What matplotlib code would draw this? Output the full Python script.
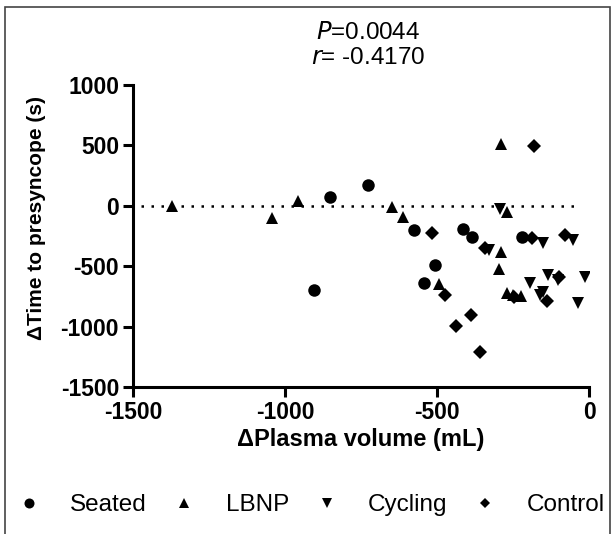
import numpy as np
import matplotlib.pyplot as plt
from matplotlib.patches import Rectangle

plt.rcParams['font.family'] = ['Liberation Sans', 'DejaVu Sans']
plt.rcParams['axes.unicode_minus'] = False

# values (x = dPlasma volume mL, y = dTime s)
seated_x = [-905, -852, -726, -575, -544, -508, -414, -386, -220]
seated_y = [-698, 72, 171, -199, -638, -494, -188, -257, -262]

lbnp_x = [-1373, -1043, -956, -649, -611, -494, -291, -295, -289, -269, -271, -250, -225]
lbnp_y = [0, -105, 38, -8, -92, -645, -385, -527, 513, -55, -720, -737, -745]

cycling_x = [-293, -330, -152, -54, -194, -134, -101, -13, -161, -150, -35]
cycling_y = [-28, -368, -305, -287, -638, -571, -612, -592, -738, -715, -803]

control_x = [-517, -341, -187, -78, -180, -475, -389, -437, -359, -246, -98, -139]
control_y = [-229, -347, -268, -240, 497, -737, -903, -994, -1212, -751, -592, -785]

groups = ['Seated', 'LBNP', 'Cycling', 'Control']
markers = ['o', '^', 'v', 'D']
sizes = [9, 9, 9, 7]

fig = plt.figure(figsize=(6.14, 5.34), dpi=100)
ax = fig.add_axes([133/614, 1-387/534, (589-133)/614, (387-85)/534])

data = [(seated_x, seated_y), (lbnp_x, lbnp_y), (cycling_x, cycling_y), (control_x, control_y)]
handles = []
for (xs, ys), name, m, s in zip(data, groups, markers, sizes):
    h, = ax.plot(xs, ys, linestyle='none', marker=m, markersize=s, color='black',
                 markeredgewidth=0, label=name)
    handles.append(h)

# zero reference line
ax.plot([-1475, -25], [0, 0], color='black', lw=1.8, dashes=(1, 3), zorder=0)

ax.set_xlim(-1500, 0)
ax.set_ylim(-1500, 1000)
ax.set_xticks([-1500, -1000, -500, 0])
ax.set_yticks([-1500, -1000, -500, 0, 500, 1000])
for sp in ['top', 'right']:
    ax.spines[sp].set_visible(False)
for sp in ['left', 'bottom']:
    ax.spines[sp].set_linewidth(2.2)
ax.tick_params(width=2.2, length=7, labelsize=16.5, pad=3)
for lab in ax.get_xticklabels() + ax.get_yticklabels():
    lab.set_fontweight('bold')

ax.set_xlabel('ΔPlasma volume (mL)', fontsize=17, fontweight='bold', labelpad=3)
ax.set_ylabel('ΔTime to presyncope (s)', fontsize=15, fontweight='bold', labelpad=4)
ax.yaxis.set_label_coords(-0.19, 0.56)

fig.text(368/614, 1-33/534, r'$\it{P}$=0.0044', ha='center', va='center', fontsize=17.5)
fig.text(368/614, 1-58/534, r'$\it{r}$= -0.4170', ha='center', va='center', fontsize=17.5)

fig.legend(handles=handles, loc='center left', bbox_to_anchor=(14/614, 1-505/534), ncol=4,
           frameon=False, fontsize=17.5, markerscale=0.8, handletextpad=1.1,
           columnspacing=0.95, handlelength=1.2, borderaxespad=0, borderpad=0)

# outer frame
fig.patches.append(Rectangle((5/614, -0.2), (610-5)/614, 1.2-7/534,
                             transform=fig.transFigure, fill=False,
                             edgecolor='#444444', lw=1.2))

fig.savefig('out.png', dpi=100)
